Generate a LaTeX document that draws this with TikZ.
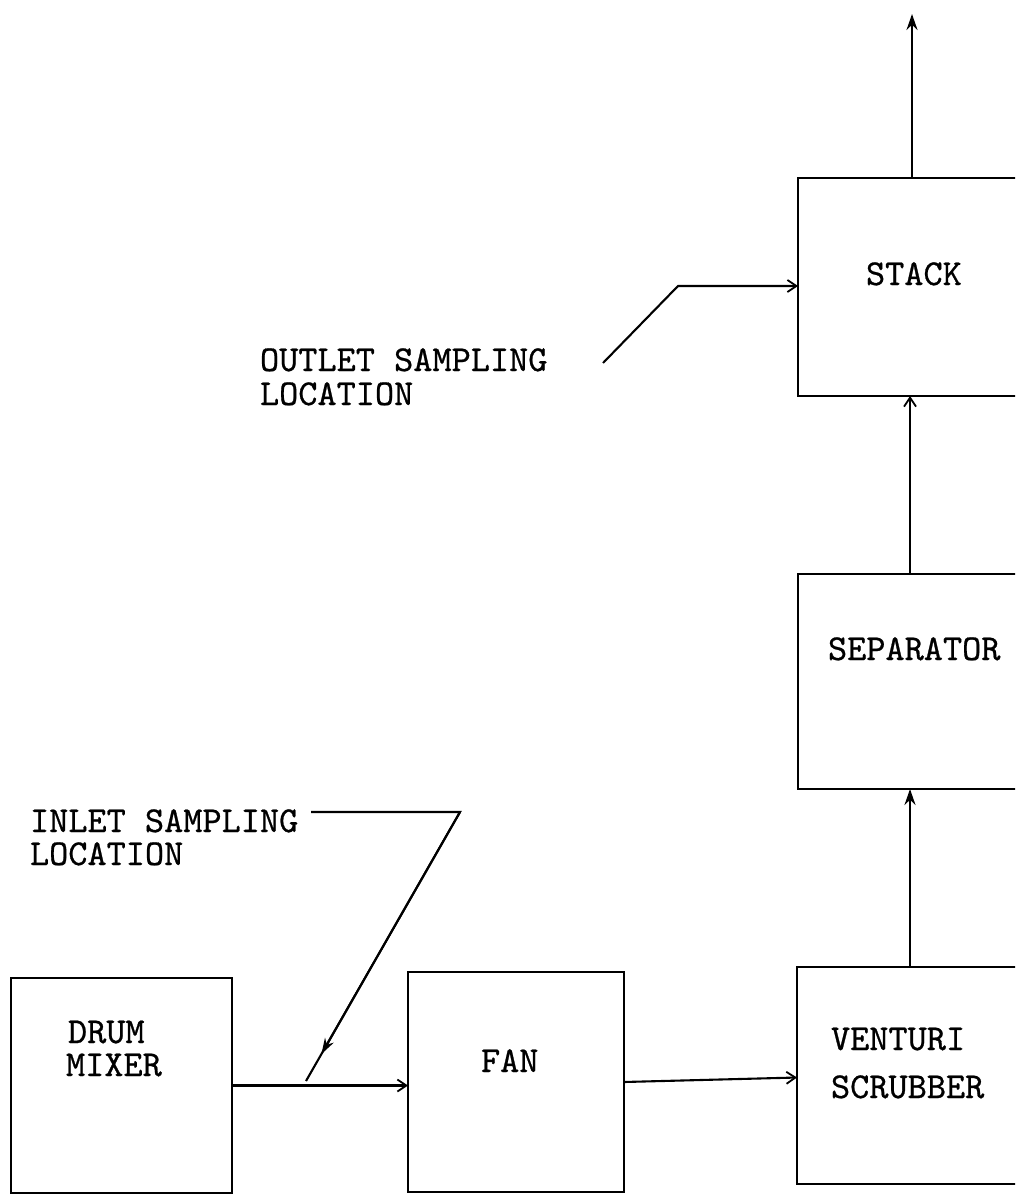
\documentclass[tikz,border=0pt]{standalone}
\usepackage{fontspec}
\newfontfamily\tw{lmmono10-regular.otf}[FakeBold=0.7]
\usetikzlibrary{arrows.meta,calc}
\begin{document}
\begin{tikzpicture}[x=1pt,y=-1pt,
  every node/.style={inner sep=0pt,outer sep=0pt},
  box/.style={draw,line width=2.2pt,rectangle},
  lbl/.style={font=\tw\fontsize{36.5}{38}\selectfont,anchor=base west},
  flow/.style={line width=2.1pt},
  openarr/.style={flow,-{Straight Barb[length=9pt,width=12pt,line width=1.8pt]}},
  solidarr/.style={flow,-{Stealth[length=16pt,width=11pt]}}]
\useasboundingbox (0,0) rectangle (1015,1197);
\clip (0,0) rectangle (1015,1197);
% boxes
\node[box,minimum width=221pt,minimum height=215pt] (drum) at (121.5,1085.5) {};
\node[box,minimum width=216pt,minimum height=220pt] (fan) at (516,1082) {};
\node[box,minimum width=243pt,minimum height=217pt] (venturi) at (918.5,1075.5) {};
\node[box,minimum width=242pt,minimum height=215pt] (separator) at (919,681.5) {};
\node[box,minimum width=242pt,minimum height=218pt] (stack) at (919,287) {};
% labels
\node[lbl] (tdrum) at (68,1043) {DRUM};
\node[lbl] (tmixer) at (66,1076) {MIXER};
\node[lbl] (tfan) at (481,1072) {FAN};
\node[lbl] (tventuri) at (831,1050) {VENTURI};
\node[lbl] (tscrub) at (831,1098) {SCRUBBER};
\node[lbl] (tsep) at (828,660) {SEPARATOR};
\node[lbl] (tstack) at (866,285) {STACK};
\node[lbl] (tout1) at (260,371) {OUTLET SAMPLING};
\node[lbl] (tout2) at (260,405) {LOCATION};
\node[lbl] (tin1) at (30,832) {INLET SAMPLING};
\node[lbl] (tin2) at (30,865) {LOCATION};
% columns and leader points
\coordinate (col) at (910,0);
\coordinate (colt) at (912,0);
\coordinate (top) at (912,14);
\coordinate (o1) at (603,363);
\coordinate (o2) at (678,286);
\coordinate (i0) at (311,812);
\coordinate (i1) at (460,812);
\coordinate (i2) at (306,1081);
% flow connectors
\draw[openarr] (drum.east) -- (drum.east -| fan.west);
\draw[openarr] (fan.east) -- ([yshift=-2pt]venturi.west);
\draw[solidarr] (venturi.north -| col) -- (separator.south -| col);
\draw[openarr] (separator.north -| col) -- (stack.south -| col);
\draw[solidarr] (stack.north -| colt) -- (top);
% outlet leader
\draw[openarr] (o1) -- (o2) -- (o2 -| stack.west);
% inlet leader
\draw[flow] (i0) -- (i1) -- (i2);
\draw[flow,-{Stealth[length=16pt,width=10pt]}] (i1) -- ($(i1)!0.9!(i2)$);
\end{tikzpicture}
\end{document}
